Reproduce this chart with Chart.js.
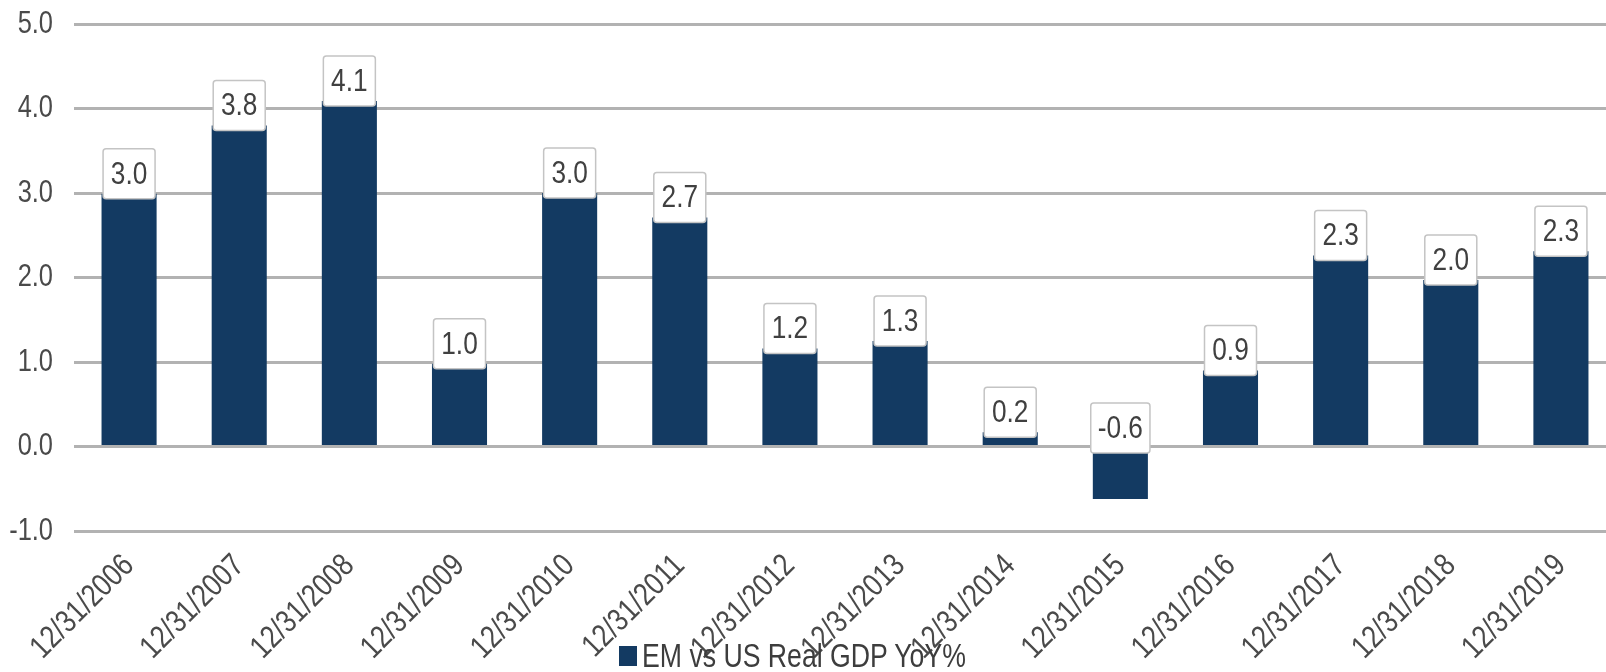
<!DOCTYPE html>
<html>
<head>
<meta charset="utf-8">
<script src="https://cdn.jsdelivr.net/npm/chart.js@4.4.1/dist/chart.umd.min.js"></script>
<style>
  html, body { margin: 0; padding: 0; background: #fff; overflow: hidden; width: 1606px; height: 672px; }
  #wrap { position: absolute; left: 0; top: 0; width: 1616px; height: 672px; }
  #legend { position: absolute; left: 619px; top: 639px; height: 34px; display: flex; align-items: center;
    font-family: "Liberation Sans", Arial, sans-serif; font-size: 32.5px; color: #3d3d3d; white-space: nowrap; }
  #legend .box { width: 18px; height: 20px; background: #133a62; margin-right: 5px; }
  #legend .txt { display: inline-block; transform: scaleX(0.82); transform-origin: 0 50%; }
</style>
</head>
<body>
<div id="wrap"><canvas id="c" width="1616" height="672"></canvas></div>
<div id="legend"><span class="box"></span><span class="txt">EM vs US Real GDP YoY%</span></div>
<script>
const categories = ["12/31/2006","12/31/2007","12/31/2008","12/31/2009","12/31/2010","12/31/2011","12/31/2012","12/31/2013","12/31/2014","12/31/2015","12/31/2016","12/31/2017","12/31/2018","12/31/2019"];
const gdpDiff = [2.99, 3.80, 4.09, 0.98, 3.00, 2.71, 1.16, 1.25, 0.17, -0.62, 0.90, 2.26, 1.97, 2.31];
const yTicks = [-1, 0, 1, 2, 3, 4, 5];
const seriesName = "EM vs US Real GDP YoY%";

const FONT = '"Liberation Sans", Arial, sans-serif';
const SQUEEZE = 0.82;

const canvas = document.getElementById('c');
const ctx2d = canvas.getContext('2d');
// condensed text rendering (narrow face look), scaled along the text direction around its anchor
const origFillText = ctx2d.fillText.bind(ctx2d);
ctx2d.fillText = function (t, x, y, mw) {
  this.save();
  this.translate(x, y);
  this.scale(SQUEEZE, 1);
  if (mw === undefined) origFillText(t, 0, 0); else origFillText(t, 0, 0, mw / SQUEEZE);
  this.restore();
};

const labelBoxes = {
  id: 'labelBoxes',
  afterDatasetsDraw(chart) {
    const ctx = chart.ctx;
    const meta = chart.getDatasetMeta(0);
    const data = chart.data.datasets[0].data;
    ctx.save();
    ctx.font = '32px ' + FONT;
    meta.data.forEach((el, i) => {
      const p = el.getProps(['x', 'y', 'base'], true);
      const txt = data[i].toFixed(1);
      const tw = ctx.measureText(txt).width * SQUEEZE;
      const top = Math.min(p.y, p.base);
      const w = Math.max(52, tw + 14), h = 50;
      const cx = p.x, cy = top - 20;
      ctx.beginPath();
      ctx.roundRect(cx - w / 2, cy - h / 2, w, h, 3);
      ctx.fillStyle = '#ffffff';
      ctx.fill();
      ctx.lineWidth = 1.5;
      ctx.strokeStyle = '#c4c4c4';
      ctx.stroke();
      ctx.fillStyle = '#404040';
      ctx.textAlign = 'center';
      ctx.textBaseline = 'middle';
      ctx.fillText(txt, cx, cy + 1);
    });
    ctx.restore();
  }
};

new Chart(canvas, {
  type: 'bar',
  data: {
    labels: categories,
    datasets: [{
      label: seriesName,
      data: gdpDiff,
      backgroundColor: '#133a62',
      borderWidth: 0,
      categoryPercentage: 1.0,
      barPercentage: 0.5
    }]
  },
  options: {
    responsive: false,
    animation: false,
    devicePixelRatio: 1,
    layout: { padding: { top: 24, right: 0, bottom: 0, left: 0 } },
    plugins: { legend: { display: false }, tooltip: { enabled: false } },
    scales: {
      y: {
        min: -1, max: 5,
        afterBuildTicks: (s) => { s.ticks = yTicks.map(v => ({ value: v })); },
        afterFit: (s) => { s.width = 74; s.paddingTop = 0; s.paddingBottom = 0; },
        border: { display: false },
        grid: { color: '#b2b2b2', lineWidth: 3, drawTicks: false },
        ticks: {
          padding: 21,
          color: '#4a4a4a',
          font: { family: FONT, size: 31 },
          callback: (v) => Number(v).toFixed(1)
        }
      },
      x: {
        afterFit: (s) => { s.height = 141; s.paddingLeft = 0; s.paddingRight = 0; },
        border: { display: false },
        grid: { display: false, drawTicks: false },
        ticks: {
          padding: 16,
          minRotation: 45, maxRotation: 45,
          autoSkip: false,
          color: '#4a4a4a',
          font: { family: FONT, size: 32 }
        }
      }
    }
  },
  plugins: [labelBoxes]
});
</script>
</body>
</html>
